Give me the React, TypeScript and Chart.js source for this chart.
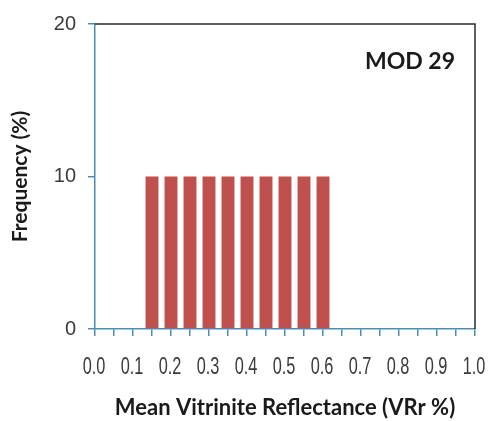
import React, { useEffect, useRef } from "react";
import { Chart, registerables } from "chart.js";

Chart.register(...registerables);

const binCenters = [0.15, 0.2, 0.25, 0.3, 0.35, 0.4, 0.45, 0.5, 0.55, 0.6];
const frequencies = [10, 10, 10, 10, 10, 10, 10, 10, 10, 10];
const xTickLabels = ["0.0", "0.1", "0.2", "0.3", "0.4", "0.5", "0.6", "0.7", "0.8", "0.9", "1.0"];
const sampleName = "MOD 29";
const xTitle = "Mean Vitrinite Reflectance (VRr %)";
const yTitle = "Frequency (%)";

const AXIS_BLUE = "#4a8db7";
const BAR_RED = "#c0504d";

const frameAndLabel = {
  id: "frameAndLabel",
  afterDraw(chart: any) {
    const { ctx, chartArea } = chart;
    const xs = chart.scales.x;
    ctx.save();
    ctx.strokeStyle = "#2b2b2b";
    ctx.lineWidth = 1.5;
    ctx.beginPath();
    ctx.moveTo(chartArea.left, chartArea.top);
    ctx.lineTo(chartArea.right, chartArea.top);
    ctx.lineTo(chartArea.right, chartArea.bottom);
    ctx.stroke();

    // condensed x tick labels
    ctx.fillStyle = "#3a3a3a";
    ctx.font = "24px 'Liberation Sans', Arial, sans-serif";
    ctx.textAlign = "center";
    ctx.textBaseline = "middle";
    xTickLabels.forEach((lab) => {
      const px = xs.getPixelForValue(parseFloat(lab));
      ctx.save();
      ctx.translate(px - 1, chartArea.bottom + 38);
      ctx.scale(0.68, 1);
      ctx.fillText(lab, 0, 0);
      ctx.restore();
    });

    ctx.fillStyle = "#1a1a1a";
    ctx.font = "bold 23px Lato, 'Open Sans', sans-serif";
    ctx.textAlign = "right";
    ctx.textBaseline = "middle";
    ctx.fillText(sampleName, chartArea.right - 20, chartArea.top + 38);
    ctx.restore();
  },
};

export default function App() {
  const ref = useRef<HTMLCanvasElement | null>(null);
  useEffect(() => {
    document.body.style.margin = "0";
    const canvas = ref.current;
    if (!canvas) return;
    const chart = new Chart(canvas, {
      type: "bar",
      data: {
        datasets: [
          {
            data: binCenters.map((x, i) => ({ x, y: frequencies[i] })),
            backgroundColor: BAR_RED,
            borderWidth: 0,
            barPercentage: 1,
            categoryPercentage: 0.68,
          },
        ],
      },
      options: {
        animation: false,
        responsive: true,
        maintainAspectRatio: false,
        layout: { padding: { top: 20, right: 15, left: 0, bottom: 0 } },
        plugins: { legend: { display: false }, tooltip: { enabled: false } },
        scales: {
          x: {
            type: "linear",
            min: 0,
            max: 1,
            offset: false,
            afterFit(axis: any) {
              axis.height = 92;
              axis.paddingRight = 0;
              axis.paddingLeft = 0;
            },
            border: { color: AXIS_BLUE, width: 1.5 },
            grid: {
              display: true,
              drawOnChartArea: false,
              drawTicks: true,
              tickLength: 7,
              color: AXIS_BLUE,
              lineWidth: 1.5,
              offset: false,
            },
            ticks: {
              stepSize: 0.05,
              autoSkip: false,
              maxRotation: 0,
              color: "rgba(0,0,0,0)",
              font: { size: 1 },
              callback: () => "",
            },
            title: {
              display: true,
              text: xTitle,
              color: "#1a1a1a",
              font: { family: "Lato, 'Open Sans', sans-serif", size: 22, weight: "bold" },
              padding: { top: 0, bottom: 0 },
            },
          },
          y: {
            min: 0,
            max: 20,
            afterFit(axis: any) {
              axis.width = 95;
            },
            border: { color: AXIS_BLUE, width: 1.5 },
            grid: {
              display: true,
              drawOnChartArea: false,
              drawTicks: true,
              tickLength: 7,
              color: AXIS_BLUE,
              lineWidth: 1.5,
            },
            ticks: {
              stepSize: 10,
              padding: 12,
              color: "#3a3a3a",
              font: { family: "'Liberation Sans'", size: 20 },
            },
            title: {
              display: true,
              text: yTitle,
              color: "#1a1a1a",
              font: { family: "Lato, 'Open Sans', sans-serif", size: 21, weight: "bold" },
              padding: { top: 8, bottom: 0 },
            },
          },
        },
      },
      plugins: [frameAndLabel],
    });
    return () => chart.destroy();
  }, []);
  return (
    <div style={{ width: 490, height: 421, position: "relative" }}>
      <canvas ref={ref} />
    </div>
  );
}
